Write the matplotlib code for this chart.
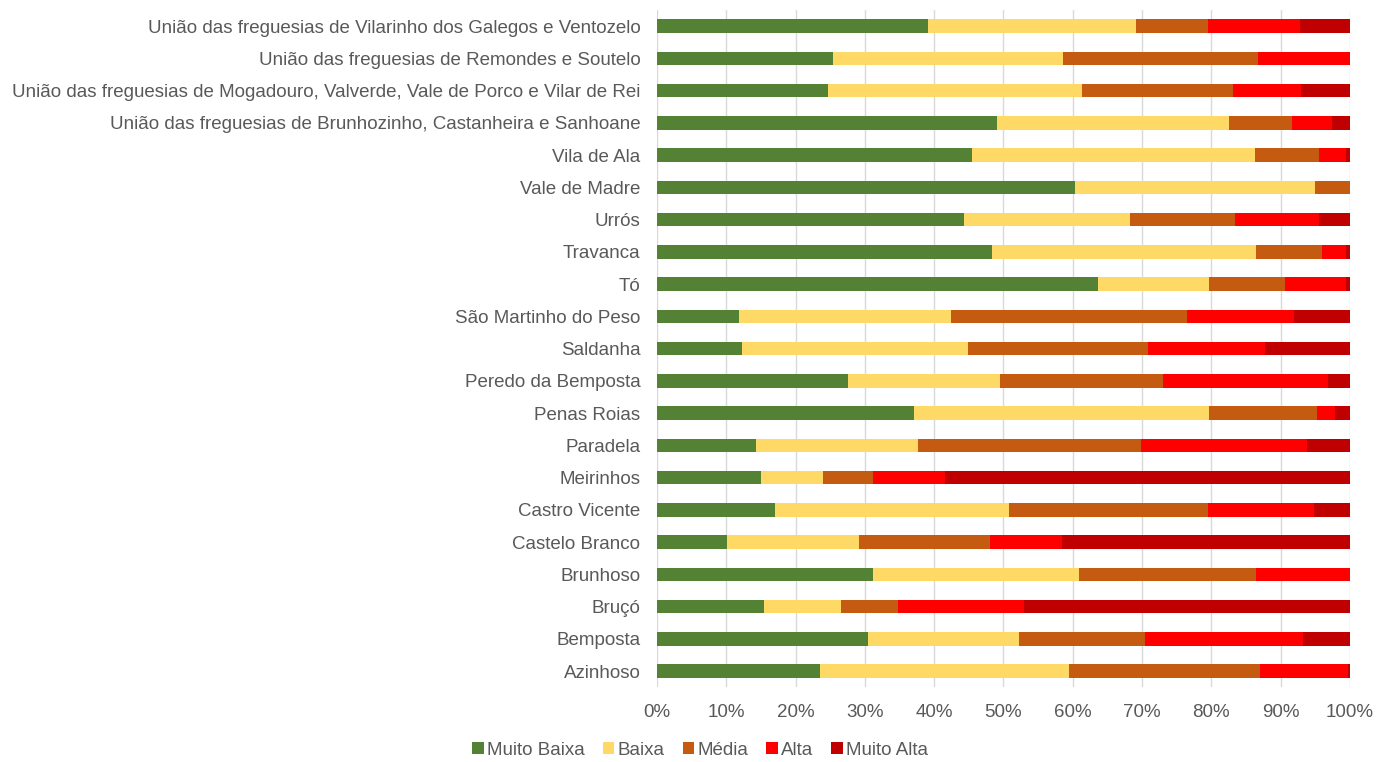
import matplotlib
matplotlib.use("Agg")
import matplotlib.pyplot as plt
import numpy as np
from matplotlib.ticker import PercentFormatter

plt.rcParams['font.family'] = ['Liberation Sans', 'DejaVu Sans']

# Parishes, listed bottom to top
parishes = [
    "Azinhoso", "Bemposta", "Bruçó", "Brunhoso", "Castelo Branco",
    "Castro Vicente", "Meirinhos", "Paradela", "Penas Roias",
    "Peredo da Bemposta", "Saldanha", "São Martinho do Peso", "Tó",
    "Travanca", "Urrós", "Vale de Madre", "Vila de Ala",
    "União das freguesias de Brunhozinho, Castanheira e Sanhoane",
    "União das freguesias de Mogadouro, Valverde, Vale de Porco e Vilar de Rei",
    "União das freguesias de Remondes e Soutelo",
    "União das freguesias de Vilarinho dos Galegos e Ventozelo",
]

# Share (%) of each class per parish
muito_baixa = [23.5, 30.4, 15.5, 31.2, 10.1, 17.0, 15.0, 14.3, 37.1, 27.6, 12.3,
               11.9, 63.7, 48.4, 44.3, 60.3, 45.5, 49.1, 24.7, 25.4, 39.1]
baixa = [36.0, 21.8, 11.1, 29.7, 19.1, 33.8, 9.0, 23.4, 42.6, 21.9, 32.6,
         30.6, 16.0, 38.1, 24.0, 34.7, 40.8, 33.5, 36.6, 33.2, 30.0]
media = [27.6, 18.2, 8.2, 25.5, 18.8, 28.7, 7.1, 32.1, 15.5, 23.6, 25.9,
         34.0, 10.9, 9.5, 15.1, 5.0, 9.3, 9.0, 21.9, 28.1, 10.4]
alta = [12.7, 22.9, 18.1, 13.6, 10.5, 15.3, 10.4, 24.0, 2.7, 23.7, 17.0,
        15.5, 8.8, 3.5, 12.2, 0.0, 3.8, 5.8, 9.8, 13.3, 13.3]
muito_alta = [0.2, 6.7, 47.1, 0.0, 41.5, 5.2, 58.5, 6.2, 2.1, 3.2, 12.2,
              8.0, 0.6, 0.5, 4.4, 0.0, 0.6, 2.6, 7.0, 0.0, 7.2]

series = [
    ("Muito Baixa", muito_baixa, "#548235"),
    ("Baixa", baixa, "#FFD966"),
    ("Média", media, "#C55A11"),
    ("Alta", alta, "#FF0000"),
    ("Muito Alta", muito_alta, "#C00000"),
]

fig = plt.figure(figsize=(13.76, 7.62), dpi=100)
ax = fig.add_axes([0.4775, 0.098, 0.5035, 0.889])

data = np.array([s[1] for s in series], dtype=float)
totals = data.sum(axis=0)
shares = data / totals

y = np.arange(len(parishes))
left = np.zeros(len(parishes))
for (name, _, color), vals in zip(series, shares):
    ax.barh(y, vals, left=left, height=0.42, color=color, label=name,
            edgecolor='none', zorder=3)
    left += vals

ax.set_xlim(0, 1)
ax.set_ylim(-0.5, len(parishes) - 0.5)
ax.set_xticks(np.linspace(0, 1, 11))
ax.xaxis.set_major_formatter(PercentFormatter(1.0, decimals=0))
ax.set_yticks(y)
ax.set_yticklabels(parishes)

ax.grid(axis='x', color='#D9D9D9', linewidth=1.0, zorder=0)
for sp in ax.spines.values():
    sp.set_visible(False)
ax.tick_params(axis='both', length=0, labelsize=13.5, colors='#595959')
ax.tick_params(axis='y', pad=12)
ax.tick_params(axis='x', pad=12)

fig.legend(loc='lower center', bbox_to_anchor=(0.509, -0.018), ncol=5,
           frameon=False, fontsize=13.5, handlelength=0.6, handleheight=0.6,
           handletextpad=0.2, columnspacing=0.95, labelcolor='#595959')

fig.savefig("out.png", dpi=100)
